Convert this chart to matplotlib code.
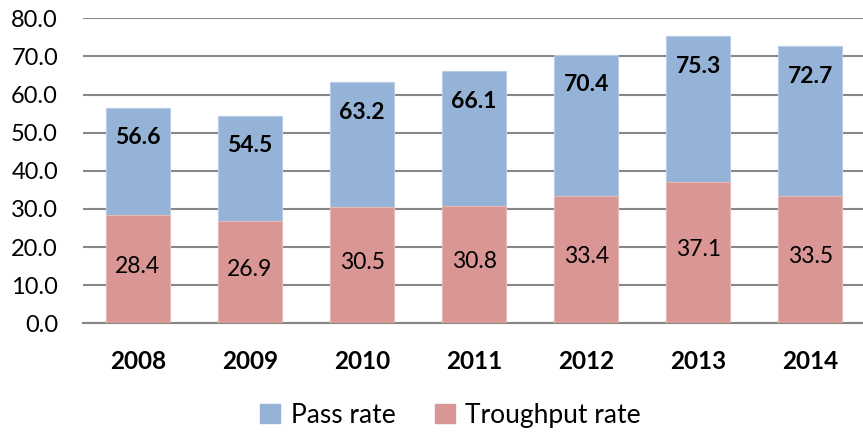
import numpy as np
from matplotlib import pyplot as plt
from matplotlib.patches import Patch

years = ['2008', '2009', '2010', '2011', '2012', '2013', '2014']
pass_rate = [56.6, 54.5, 63.2, 66.1, 70.4, 75.3, 72.7]
throughput_rate = [28.4, 26.9, 30.5, 30.8, 33.4, 37.1, 33.5]

blue = '#95b3d7'
pink = '#d99694'
grid_grey = '#878787'

plt.rcParams['font.family'] = ['Lato', 'DejaVu Sans']

fig = plt.figure(figsize=(8.63, 4.36), dpi=100)
ax = fig.add_axes([0.0962, 0.2585, 0.9038, 0.6995])

x = np.arange(len(years))
w = 0.57
ax.bar(x, pass_rate, w, color=blue, edgecolor='#b8cce4', linewidth=0.8, zorder=2)
ax.bar(x, throughput_rate, w, color=pink, edgecolor='#e6b9b8', linewidth=0.8, zorder=3)

for i in range(len(years)):
    ax.annotate('%.1f' % pass_rate[i], (x[i], pass_rate[i]), xytext=(0, -30),
                textcoords='offset pixels', ha='center', va='center',
                fontsize=16.5, fontweight='bold', color='black', zorder=4)
    ax.annotate('%.1f' % throughput_rate[i], (x[i], throughput_rate[i] / 2), xytext=(0, 3),
                textcoords='offset pixels', ha='center', va='center',
                fontsize=16.5, color='black', zorder=4)

ax.set_ylim(0, 80)
ax.set_xlim(-0.49, 6.47)
ax.set_yticks(np.arange(0, 81, 10))
ax.set_yticklabels(['%.1f' % v for v in np.arange(0, 81, 10)], fontsize=17)
ax.set_xticks(x)
ax.set_xticklabels(years, fontsize=17.5, fontweight='bold')
ax.tick_params(axis='y', length=0, pad=18)
ax.tick_params(axis='x', length=0, pad=19)
ax.yaxis.grid(True, color=grid_grey, linewidth=1.5, zorder=0)
ax.set_axisbelow(True)
for s in ['top', 'right', 'left']:
    ax.spines[s].set_visible(False)
ax.spines['bottom'].set_color(grid_grey)
ax.spines['bottom'].set_linewidth(1.5)

handles = [Patch(color=blue, label='Pass rate'), Patch(color=pink, label='Troughput rate')]
fig.legend(handles=handles, loc='center', bbox_to_anchor=(0.522, 0.048), ncol=2, frameon=False,
           fontsize=19, handlelength=0.75, handleheight=0.75, handletextpad=0.4, columnspacing=1.5)

plt.savefig('out.png')
